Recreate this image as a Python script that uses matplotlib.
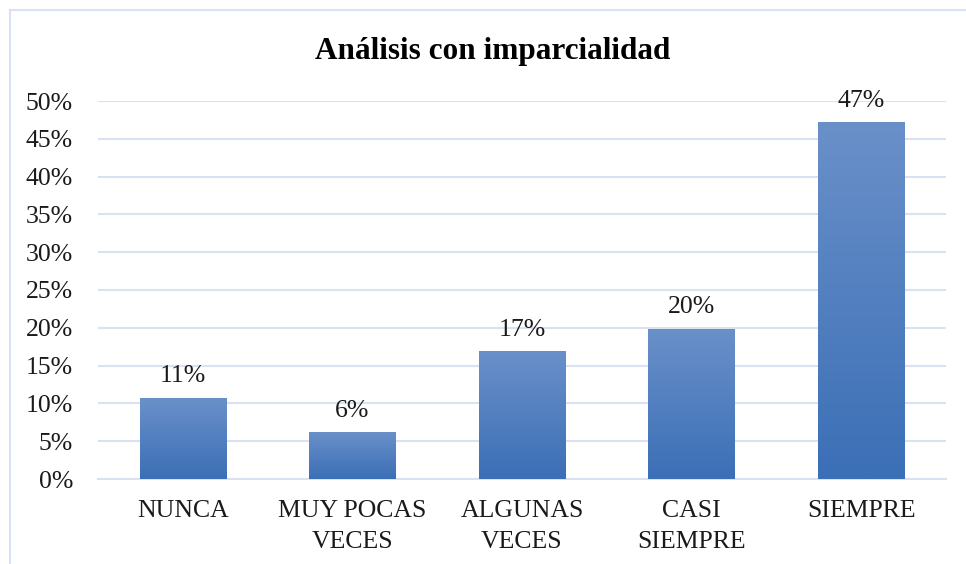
import numpy as np
import matplotlib.pyplot as plt
from matplotlib.colors import LinearSegmentedColormap
from matplotlib.patches import Rectangle

categories = ['NUNCA', 'MUY POCAS\nVECES', 'ALGUNAS\nVECES', 'CASI\nSIEMPRE', 'SIEMPRE']
values = [10.7, 6.1, 16.8, 19.8, 47.1]
labels = ['11%', '6%', '17%', '20%', '47%']
yticks = [0, 5, 10, 15, 20, 25, 30, 35, 40, 45, 50]

plt.rcParams['font.family'] = ['Liberation Serif', 'DejaVu Serif']

fig = plt.figure(figsize=(9.66, 5.64), dpi=100)
ax = fig.add_axes([98 / 966, 1 - 479 / 564, 848 / 966, 378 / 564])

grid_color = '#d9e2f3'
x = np.arange(len(categories))
bars = ax.bar(x, values, width=0.51, color='#4a7ec0', zorder=2)

# vertical gradient on each bar, lighter at the top
cmap = LinearSegmentedColormap.from_list('bar', ['#3b6fb6', '#6a90c9'])
grad = np.linspace(0, 1, 256).reshape(-1, 1)
for rect in bars:
    x0 = rect.get_x()
    w = rect.get_width()
    h = rect.get_height()
    ax.imshow(grad, cmap=cmap, origin='lower', aspect='auto',
              extent=(x0, x0 + w, 0, h), zorder=3)

for xi, v, lab in zip(x, values, labels):
    ax.annotate(lab, (xi, v), xytext=(0, 8), textcoords='offset points',
                ha='center', va='bottom', fontsize=18.5, color='#1a1a1a')

ax.set_xlim(-0.5, len(categories) - 0.5)
ax.set_ylim(0, 50)
ax.set_yticks(yticks)
ax.set_yticklabels([f'{t}%' for t in yticks])
ax.set_xticks(x)
ax.set_xticklabels(categories)
ax.tick_params(axis='y', length=0, pad=18, labelsize=18.5)
ax.tick_params(axis='x', length=0, pad=15, labelsize=18.5)
for lab in ax.get_xticklabels():
    lab.set_linespacing(1.55)
    lab.set_color('#1a1a1a')
for lab in ax.get_yticklabels():
    lab.set_color('#1a1a1a')

ax.grid(axis='y', color=grid_color, linewidth=1.5, zorder=0)
ax.set_axisbelow(True)
for side in ['top', 'right', 'left']:
    ax.spines[side].set_visible(False)
ax.spines['bottom'].set_color(grid_color)
ax.spines['bottom'].set_linewidth(1.5)

fig.text(493 / 966, 1 - 52 / 564, 'Análisis con imparcialidad', ha='center', va='center',
         fontsize=22.5, fontweight='bold', color='black')

# chart area border (only top and left edges visible in the crop)
fig.patches.append(Rectangle((10 / 966, -0.1), 1.2, 1.1 - 10 / 564,
                             transform=fig.transFigure, fill=False,
                             edgecolor=grid_color, linewidth=1.5))

fig.savefig('out.png', dpi=100)
